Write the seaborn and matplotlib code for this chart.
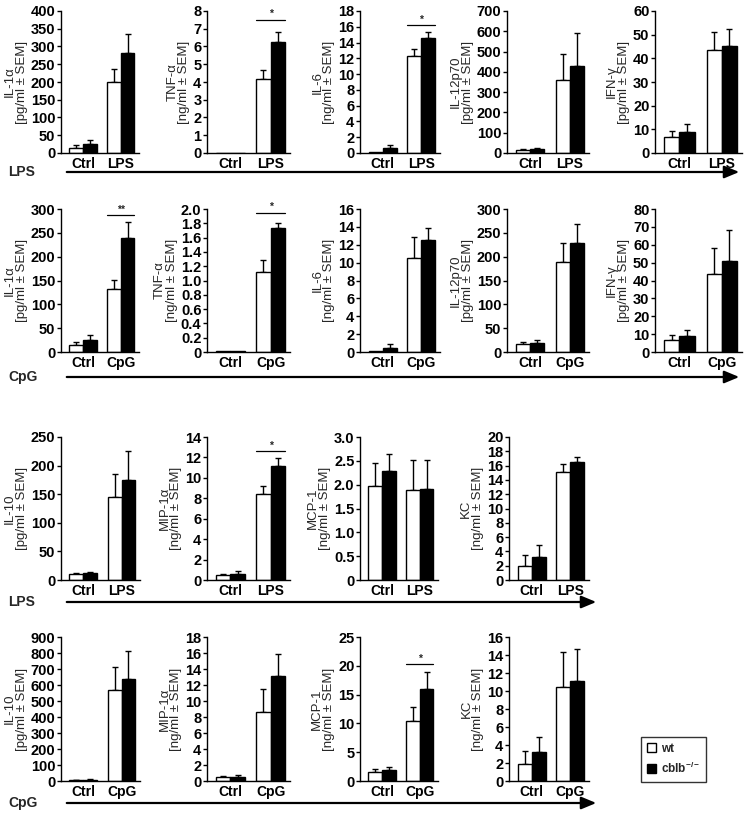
import numpy as np
import pandas as pd
import matplotlib
matplotlib.use("Agg")
import matplotlib.pyplot as plt
from matplotlib.patches import Patch
from matplotlib.ticker import FuncFormatter
import seaborn as sns

sns.set_style("white")
plt.rcParams['font.family'] = ['Liberation Sans', 'DejaVu Sans']
plt.rcParams['mathtext.fontset'] = 'custom'
plt.rcParams['mathtext.rm'] = 'Liberation Sans'
plt.rcParams['mathtext.bf'] = 'Liberation Sans:bold'

genotypes = ["wt", "cblb"]
geno_labels = ["wt", r"cblb$^{\mathbf{-/-}}$"]
stim_lps = ["Ctrl", "LPS"]
stim_cpg = ["Ctrl", "CpG"]

# ---- Row 1: LPS ----
r1_names = ["IL-1α", "TNF-α", "IL-6", "IL-12p70", "IFN-γ"]
r1_units = ["pg", "ng", "ng", "pg", "pg"]
r1_wt = [[14, 200], [0.02, 4.18], [0.15, 12.3], [16, 361], [6.6, 43.5]]
r1_wt_sem = [[7.5, 37], [0, 0.5], [0, 0.85], [5, 126], [2.8, 7.8]]
r1_ko = [[25, 281], [0.02, 6.24], [0.63, 14.6], [20, 431], [8.7, 45.4]]
r1_ko_sem = [[11, 55], [0, 0.6], [0.34, 0.7], [5, 159], [3.7, 7.0]]
r1_ymax = [400, 8, 18, 700, 60]
r1_ystep = [50, 1, 2, 100, 10]
r1_sig = [None, ("*", 7.5), ("*", 16.2), None, None]

# ---- Row 2: CpG ----
r2_names = ["IL-1α", "TNF-α", "IL-6", "IL-12p70", "IFN-γ"]
r2_units = ["pg", "ng", "ng", "pg", "pg"]
r2_wt = [[15.4, 132], [0.02, 1.12], [0.1, 10.5], [16.8, 188], [6.7, 43.9]]
r2_wt_sem = [[5.6, 18.7], [0, 0.16], [0, 2.4], [4.9, 40], [2.8, 14.5]]
r2_ko = [[24.5, 240], [0.02, 1.73], [0.5, 12.56], [19, 228], [9, 50.8]]
r2_ko_sem = [[11.9, 32], [0, 0.08], [0.4, 1.34], [7, 40], [3.5, 17.2]]
r2_ymax = [300, 2.0, 16, 300, 80]
r2_ystep = [50, 0.2, 2, 50, 10]
r2_sig = [("**", 287), ("*", 1.95), None, None, None]

# ---- Row 3: LPS ----
r3_names = ["IL-10", "MIP-1α", "MCP-1", "KC"]
r3_units = ["pg", "ng", "ng", "ng"]
r3_wt = [[10, 145], [0.52, 8.44], [1.98, 1.89], [1.96, 15.1]]
r3_wt_sem = [[2, 41], [0.08, 0.72], [0.48, 0.63], [1.5, 1.16]]
r3_ko = [[11.7, 174], [0.6, 11.19], [2.29, 1.91], [3.18, 16.5]]
r3_ko_sem = [[2.9, 51], [0.3, 0.75], [0.35, 0.61], [1.77, 0.7]]
r3_ymax = [250, 14, 3.0, 20]
r3_ystep = [50, 2, 0.5, 2]
r3_sig = [None, ("*", 12.6), None, None]

# ---- Row 4: CpG ----
r4_names = ["IL-10", "MIP-1α", "MCP-1", "KC"]
r4_units = ["pg", "ng", "ng", "ng"]
r4_wt = [[6, 567], [0.46, 8.6], [1.56, 10.5], [1.87, 10.5]]
r4_wt_sem = [[3, 143], [0.12, 2.9], [0.58, 2.3], [1.49, 3.8]]
r4_ko = [[8, 640], [0.5, 13.1], [1.85, 16.0], [3.17, 11.1]]
r4_ko_sem = [[3, 172], [0.2, 2.8], [0.58, 3.0], [1.76, 3.6]]
r4_ymax = [900, 18, 25, 16]
r4_ystep = [100, 2, 5, 2]
r4_sig = [None, None, ("*", 20.3), None]

W, H = 744, 813
fig = plt.figure(figsize=(W / 100, H / 100), dpi=100)


def px_axes(left, right, top, bottom):
    return fig.add_axes([left / W, 1 - bottom / H, (right - left) / W, (bottom - top) / H])


def fmt_factory(step):
    def f(v, pos):
        if abs(v) < 1e-9:
            return "0"
        if step < 1:
            return f"{v:.1f}"
        return f"{int(round(v))}"
    return f


def panel(ax, name, unit, stims, wt, wt_sem, ko, ko_sem, ymax, ystep, sig):
    df = pd.DataFrame({
        "stim": stims * 2,
        "geno": ["wt"] * len(stims) + ["cblb"] * len(stims),
        "value": list(wt) + list(ko),
    })
    sns.barplot(data=df, x="stim", y="value", hue="geno", hue_order=genotypes,
                order=stims, palette={"wt": "white", "cblb": "black"},
                edgecolor="black", linewidth=1.0, width=0.72, errorbar=None,
                legend=False, ax=ax)
    bar_conts = list(ax.containers)
    sems = [wt_sem, ko_sem]
    for gi, cont in enumerate(bar_conts):
        for bi, bar in enumerate(cont):
            bar.set_zorder(2)
            s = sems[gi][bi]
            if s > 0:
                xc = bar.get_x() + bar.get_width() / 2
                h = bar.get_height()
                ax.errorbar([xc], [h], yerr=[[0], [s]], fmt="none", ecolor="black",
                            elinewidth=1.0, capsize=2.5, capthick=1.0, zorder=1)
    if sig is not None:
        txt, yl = sig
        b0 = bar_conts[0][1]
        b1 = bar_conts[1][1]
        x0 = b0.get_x()
        x1 = b1.get_x() + b1.get_width()
        ax.plot([x0, x1], [yl, yl], color="black", lw=0.9, clip_on=False)
        ax.text((x0 + x1) / 2, yl + ymax * 0.005, txt, ha="center", va="bottom",
                fontsize=7.5, fontweight="bold")
    ax.set_xlim(-0.58, 1.48)
    ax.set_ylim(0, ymax)
    ax.set_yticks(np.arange(0, ymax + ystep / 2, ystep))
    ax.yaxis.set_major_formatter(FuncFormatter(fmt_factory(ystep)))
    sns.despine(ax=ax)
    for sp in ["left", "bottom"]:
        ax.spines[sp].set_linewidth(1.0)
        ax.spines[sp].set_color("black")
    ax.tick_params(axis="y", direction="out", length=3, width=1, pad=1,
                   labelsize=10.5, left=True, colors="black")
    ax.tick_params(axis="x", length=0, pad=3, labelsize=10, colors="black")
    for lab in ax.get_yticklabels() + ax.get_xticklabels():
        lab.set_fontweight("bold")
    ax.set_xlabel("")
    ax.set_ylabel(f"{name}\n[{unit}/ml ± SEM]", fontsize=9.5, linespacing=1.0, labelpad=2)
    ax.set_facecolor("none")


rows = [
    dict(top=11, bottom=153, stims=stim_lps, names=r1_names, units=r1_units, wt=r1_wt,
         wt_sem=r1_wt_sem, ko=r1_ko, ko_sem=r1_ko_sem, ymax=r1_ymax, ystep=r1_ystep, sig=r1_sig,
         cols=[(61, 139), (207, 290), (360, 440), (507, 589), (655, 742)],
         arrow_y=172, arrow_end=742, label="LPS"),
    dict(top=209, bottom=352, stims=stim_cpg, names=r2_names, units=r2_units, wt=r2_wt,
         wt_sem=r2_wt_sem, ko=r2_ko, ko_sem=r2_ko_sem, ymax=r2_ymax, ystep=r2_ystep, sig=r2_sig,
         cols=[(61, 139), (207, 290), (360, 440), (507, 589), (655, 742)],
         arrow_y=377, arrow_end=742, label="CpG"),
    dict(top=437, bottom=580, stims=stim_lps, names=r3_names, units=r3_units, wt=r3_wt,
         wt_sem=r3_wt_sem, ko=r3_ko, ko_sem=r3_ko_sem, ymax=r3_ymax, ystep=r3_ystep, sig=r3_sig,
         cols=[(61, 140), (207, 290), (360, 438), (509, 589)],
         arrow_y=602, arrow_end=599, label="LPS"),
    dict(top=637, bottom=781, stims=stim_cpg, names=r4_names, units=r4_units, wt=r4_wt,
         wt_sem=r4_wt_sem, ko=r4_ko, ko_sem=r4_ko_sem, ymax=r4_ymax, ystep=r4_ystep, sig=r4_sig,
         cols=[(61, 140), (207, 290), (360, 438), (509, 589)],
         arrow_y=803, arrow_end=599, label="CpG"),
]

for r in rows:
    for i, (l, rr) in enumerate(r["cols"]):
        ax = px_axes(l, rr, r["top"], r["bottom"])
        panel(ax, r["names"][i], r["units"][i], r["stims"], r["wt"][i], r["wt_sem"][i],
              r["ko"][i], r["ko_sem"][i], r["ymax"][i], r["ystep"][i], r["sig"][i])
    ya = 1 - r["arrow_y"] / H
    fig.text(8 / W, ya, r["label"], ha="left", va="center", fontsize=10, fontweight="bold")
    fig.add_artist(matplotlib.patches.FancyArrowPatch(
        (64 / W, ya), (r["arrow_end"] / W, ya), transform=fig.transFigure,
        arrowstyle="-|>,head_length=6,head_width=2.5", mutation_scale=1.5,
        color="black", lw=1.6))

handles = [Patch(facecolor="white", edgecolor="black", linewidth=1.0),
           Patch(facecolor="black", edgecolor="black", linewidth=1.0)]
leg = fig.legend(handles, geno_labels, loc="upper left",
                 bbox_to_anchor=(635 / W, 1 - 731 / H), frameon=True, fancybox=False,
                 edgecolor="black", handlelength=0.8, handleheight=0.8,
                 handletextpad=0.4, borderpad=0.5, labelspacing=0.5,
                 prop={"weight": "bold", "size": 8.5})
leg.get_frame().set_linewidth(1.0)

fig.savefig("out.png", dpi=100)
